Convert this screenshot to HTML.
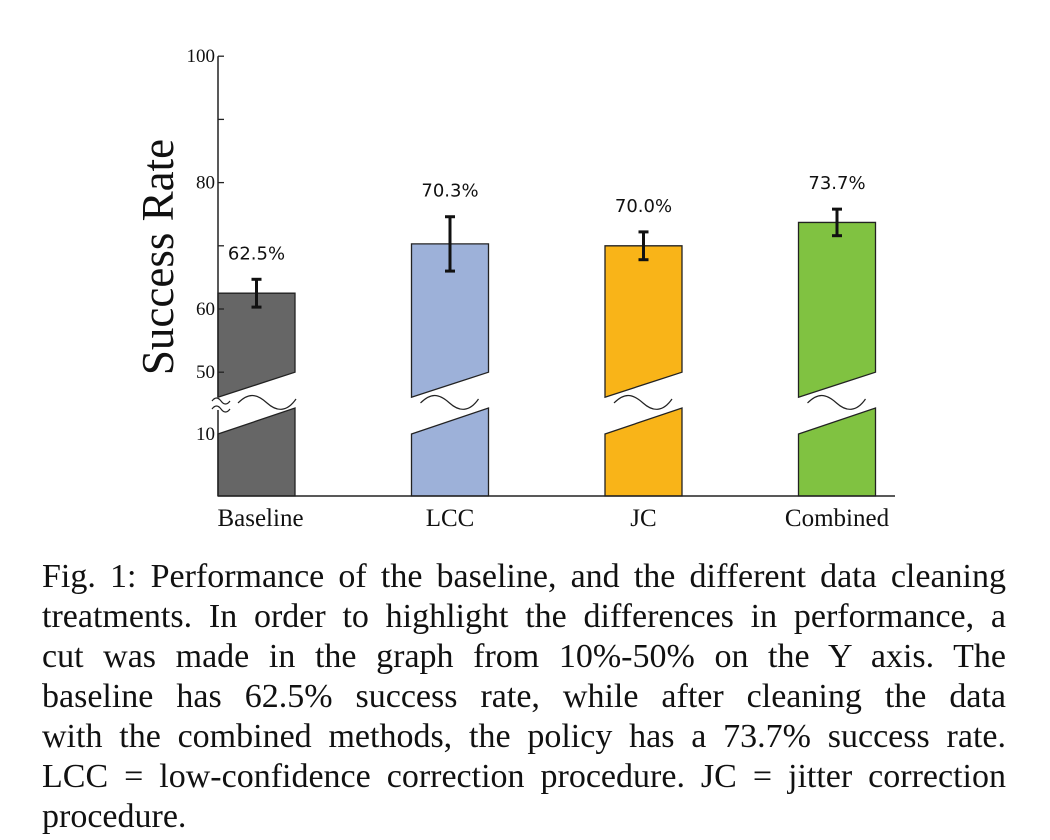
<!DOCTYPE html>
<html><head><meta charset="utf-8"><style>
body{margin:0;background:#fff;width:1050px;height:840px;overflow:hidden;position:relative}
#cap{position:absolute;left:42px;top:557px;width:964px;font-family:"Liberation Serif",serif;font-size:34px;line-height:40px;color:#111}
#cap div{text-align:justify;text-align-last:justify;white-space:nowrap}
#cap div.last{text-align-last:left}
</style></head><body>
<svg id="chart" width="1050" height="545" style="position:absolute;left:0;top:0" font-family="Liberation Serif, serif"></svg>
<div id="cap">
<div>Fig. 1: Performance of the baseline, and the different data cleaning</div>
<div>treatments. In order to highlight the differences in performance, a</div>
<div>cut was made in the graph from 10%-50% on the Y axis. The</div>
<div>baseline has 62.5% success rate, while after cleaning the data</div>
<div>with the combined methods, the policy has a 73.7% success rate.</div>
<div>LCC = low-confidence correction procedure. JC = jitter correction</div>
<div class="last">procedure.</div>
</div>
<script>
const categories=["Baseline","LCC","JC","Combined"];
const values=[62.5,70.3,70.0,73.7];
const errors=[2.2,4.3,2.2,2.1];
const valueLabels=["62.5%","70.3%","70.0%","73.7%"];
const colors=["#666666","#9db1d9","#f9b418","#80c241"];
const upperTicks=[50,60,70,80,90,100];
const upperTickLabels=["50","60","","80","","100"];
const lowerTicks=[10];
const NS="http://www.w3.org/2000/svg";
const svg=document.getElementById('chart');
function mk(t,a,p){const e=document.createElementNS(NS,t);for(const k in a)e.setAttribute(k,a[k]);(p||svg).appendChild(e);return e;}
const yU=v=>309-(v-60)*6.32;
const yL=v=>496-v*6.2;
const x0=218,barW=77,step=193.5;
const xB=i=>x0+i*step;
categories.forEach((c,i)=>{
  const x=xB(i),v=values[i];
  const top=mk('polygon',{points:`${x},${yU(v)} ${x+barW},${yU(v)} ${x+barW},${yU(50)} ${x},${yU(50)+25}`,fill:colors[i],stroke:'#222','stroke-width':1.3});
  
  
  const bot=mk('polygon',{points:`${x},${yL(10)} ${x+barW},${yL(10)-26} ${x+barW},496 ${x},496`,fill:colors[i],stroke:'#222','stroke-width':1.3});
  
  
  const wx=x+(i==0?20:9),wy=403;
  const w=mk('path',{d:`M${wx},${wy} c10,-10 18,-10 29,0 c10,9 20,9 29,-4`,fill:'none',stroke:'#222','stroke-width':1.2});
  
  
  const cx=x+barW/2,e1=yU(v+errors[i]),e2=yU(v-errors[i]);
  const g=mk('g',{stroke:'#111','stroke-width':3});
  
  
  mk('line',{x1:cx,y1:e1,x2:cx,y2:e2},g);
  mk('line',{x1:cx-5,y1:e1,x2:cx+5,y2:e1},g);
  mk('line',{x1:cx-5,y1:e2,x2:cx+5,y2:e2},g);
  const t=mk('text',{x:cx,y:e1-20,'text-anchor':'middle','font-family':'DejaVu Sans, sans-serif','font-size':18,fill:'#111'});
  t.textContent=valueLabels[i];
  
  
  const xl=mk('text',{x:cx+(i==0?4:0),y:526,'text-anchor':'middle','font-size':25,fill:'#111'});
  xl.textContent=c;
  
  
});
const ya=mk('path',{d:`M${x0},${yU(100)} L${x0},397 M${x0},410 L${x0},496`,stroke:'#222','stroke-width':1.5,fill:'none'});


const xa=mk('line',{x1:x0,y1:496,x2:895,y2:496,stroke:'#222','stroke-width':1.5});


const br=mk('path',{d:`M212,401 c3,-4 6,-4 9,0 s6,4 9,0 M212,409 c3,-4 6,-4 9,0 s6,4 9,0`,fill:'none',stroke:'#222','stroke-width':1.2});


upperTicks.forEach((t,i)=>{
  const y=yU(t);
  const tk=mk('line',{x1:x0,y1:y,x2:x0+6,y2:y,stroke:'#222','stroke-width':1.3});
  
  
  if(upperTickLabels[i]){const l=mk('text',{x:x0-3,y:y+6,'text-anchor':'end','font-size':19,fill:'#111'});l.textContent=upperTickLabels[i];
  
  }
});
lowerTicks.forEach(t=>{
  const y=yL(t);
  const l=mk('text',{x:x0-3,y:y+6,'text-anchor':'end','font-size':19,fill:'#111'});l.textContent=String(t);
  
  
});
const yt=mk('text',{x:0,y:0,transform:'translate(173,257) rotate(-90)','text-anchor':'middle','font-size':45,fill:'#111'});
yt.textContent='Success Rate';


</script>
</body></html>
